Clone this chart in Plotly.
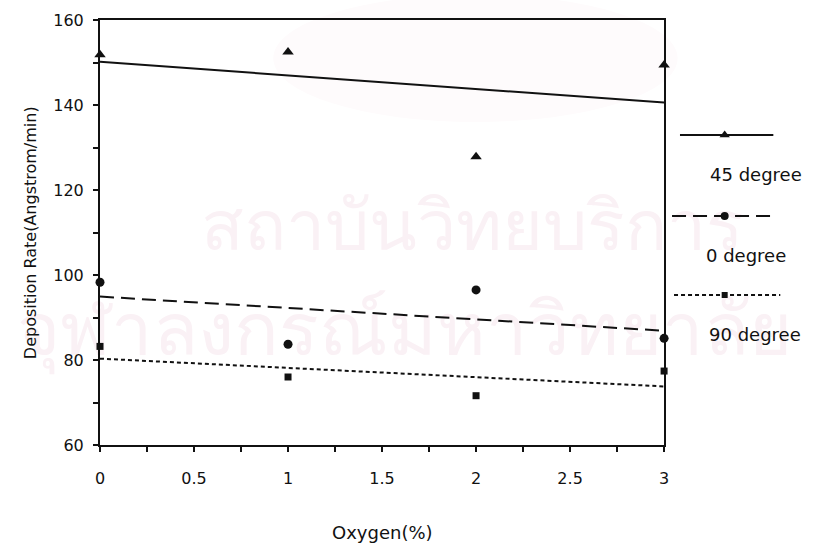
import numpy as np
import plotly.graph_objects as go

# Oxygen content (%) and measured deposition rates (Angstrom/min)
oxygen = [0, 1, 2, 3]
rate_45 = [151.8, 152.5, 127.8, 149.4]
rate_0 = [98.3, 83.7, 96.5, 85.1]
rate_90 = [83.2, 76.0, 71.6, 77.4]

series_names = ["45 degree", "0 degree", "90 degree"]
x_ticks = [0, 0.5, 1, 1.5, 2, 2.5, 3]
x_tick_text = ["0", "0.5", "1", "1.5", "2", "2.5", "3"]
y_ticks = [60, 80, 100, 120, 140, 160]

FONT = "DejaVu Sans, Liberation Sans, sans-serif"
THAI_FONT = "Noto Sans, DejaVu Sans, sans-serif"
INK = "#111111"
MARK_TINT = "#faf1f5"

styles = [
    dict(data=rate_45, symbol="triangle-up", size=10, dash="solid"),
    dict(data=rate_0, symbol="circle", size=9, dash="14px,7px"),
    dict(data=rate_90, symbol="square", size=7, dash="4px,3px"),
]

fig = go.Figure()

# Faint library watermark, drawn first so every chart mark sits on top of it
fig.add_shape(type="circle", xref="paper", yref="paper", layer="below",
              x0=0.24, x1=0.80, y0=0.76, y1=1.06,
              fillcolor="#fefbfc", line=dict(width=0))
fig.add_trace(go.Scatter(
    x=[1.98, 1.62], y=[110.0, 85.5], mode="text",
    text=["สถาบันวิทยบริการ", "จุฬาลงกรณ์มหาวิทยาลัย"],
    textfont=dict(family=THAI_FONT, size=[70, 74], color=MARK_TINT),
    showlegend=False, hoverinfo="skip", cliponaxis=False))

x_arr = np.array(oxygen, dtype=float)
for name, st in zip(series_names, styles):
    y_arr = np.array(st["data"], dtype=float)
    # least-squares linear trend through the measurements
    slope, intercept = np.polyfit(x_arr, y_arr, 1)
    x_fit = np.array([oxygen[0], oxygen[-1]], dtype=float)
    fig.add_trace(go.Scatter(
        x=x_fit, y=slope * x_fit + intercept, mode="lines",
        line=dict(color=INK, width=2, dash=st["dash"]),
        showlegend=False, hoverinfo="skip", cliponaxis=False))
    fig.add_trace(go.Scatter(
        x=oxygen, y=st["data"], mode="markers", name=name,
        marker=dict(symbol=st["symbol"], size=st["size"], color=INK),
        showlegend=False, cliponaxis=False))

# Key drawn on its own hidden axes in the right margin (units = screen pixels):
# a line sample with its marker, and the label underneath
key_rows = [135, 216, 295]
key_spans = [(684, 778), (676, 780), (678, 785)]
key_label_x = [712, 708, 711]
key_mid = 729
for row, span, lx, name, st in zip(key_rows, key_spans, key_label_x, series_names, styles):
    fig.add_trace(go.Scatter(
        x=[span[0], span[1]], y=[row, row], mode="lines",
        line=dict(color=INK, width=2, dash=st["dash"]),
        xaxis="x2", yaxis="y2", showlegend=False, hoverinfo="skip", cliponaxis=False))
    fig.add_trace(go.Scatter(
        x=[key_mid], y=[row], mode="markers",
        marker=dict(symbol=st["symbol"], size=st["size"] - 1, color=INK),
        xaxis="x2", yaxis="y2", showlegend=False, hoverinfo="skip", cliponaxis=False))
    fig.add_annotation(text=name, x=lx, y=row + 39, xref="x2", yref="y2",
                       xanchor="left", yanchor="middle", showarrow=False,
                       font=dict(family=FONT, size=18, color=INK))

plot_frac = 568 / 727
fig.update_layout(
    width=827, height=558,
    margin=dict(l=100, r=0, t=20, b=113),
    paper_bgcolor="white", plot_bgcolor="rgba(0,0,0,0)",
    font=dict(family=FONT, size=16, color=INK),
    xaxis=dict(domain=[0, plot_frac], range=[0, 3], tickvals=x_ticks, ticktext=x_tick_text,
               ticks="outside", ticklen=5, tickwidth=1.5, tickcolor=INK,
               minor=dict(dtick=0.25, tick0=0, ticks="outside", ticklen=5, tickwidth=1.5, tickcolor=INK),
               showline=True, linecolor=INK, linewidth=2, mirror=True,
               showgrid=False, zeroline=False, ticklabelstandoff=13,
               tickfont=dict(size=16)),
    yaxis=dict(range=[60, 160], tickvals=y_ticks,
               ticks="outside", ticklen=5, tickwidth=1.5, tickcolor=INK,
               minor=dict(dtick=10, tick0=60, ticks="outside", ticklen=5, tickwidth=1.5, tickcolor=INK),
               showline=True, linecolor=INK, linewidth=2, mirror=True,
               showgrid=False, zeroline=False, ticklabelstandoff=6,
               tickfont=dict(size=16)),
    xaxis2=dict(domain=[plot_frac, 1], range=[668, 827], visible=False, anchor="y2"),
    yaxis2=dict(domain=[0, 1], range=[445, 20], visible=False, anchor="x2"),
    showlegend=False,
)

# Axis titles
fig.add_annotation(text="Oxygen(%)", xref="x", yref="paper", x=1.5, y=-0.207,
                   yanchor="middle", showarrow=False, font=dict(family=FONT, size=18, color=INK))
fig.add_annotation(text="Deposition Rate(Angstrom/min)", xref="paper", yref="y",
                   x=-0.112, y=110, textangle=-90, showarrow=False,
                   font=dict(family=FONT, size=16, color=INK))

fig.write_html("out.html")
